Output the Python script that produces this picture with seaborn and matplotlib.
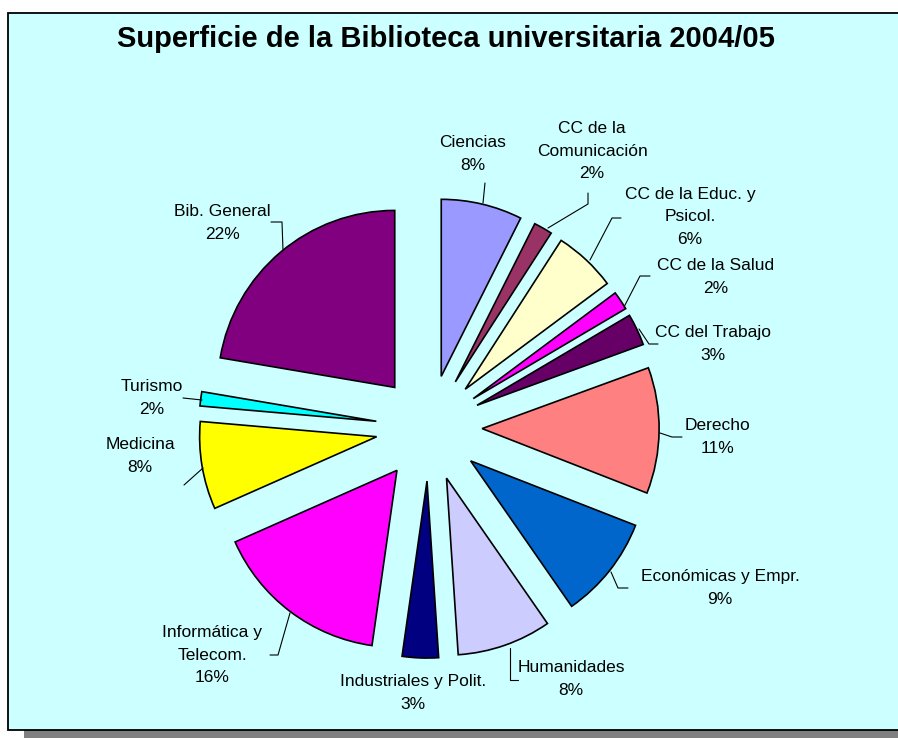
import matplotlib
matplotlib.use("Agg")
import matplotlib.pyplot as plt
import seaborn as sns
from matplotlib.patches import Rectangle

sns.set_style("white")
plt.rcParams['font.family'] = ['Liberation Sans', 'DejaVu Sans']

categories = ["Ciencias", "CC de la\nComunicación", "CC de la Educ. y\nPsicol.",
              "CC de la Salud", "CC del Trabajo", "Derecho", "Económicas y Empr.",
              "Humanidades", "Industriales y Polit.", "Informática y\nTelecom.",
              "Medicina", "Turismo", "Bib. General"]
# slice shares
values = [7.4, 1.7, 5.7, 1.7, 2.9, 11.5, 9.4, 8.6, 3.3, 16.1, 8.0, 1.3, 22.3]
# percentage labels as printed on the chart
pct_labels = ["8%", "2%", "6%", "2%", "3%", "11%", "9%", "8%", "3%", "16%", "8%", "2%", "22%"]
colors = ["#9999FF", "#993366", "#FFFFCC", "#FF00FF", "#660066", "#FF8080",
          "#0066CC", "#CCCCFF", "#000080", "#FF00FF", "#FFFF00", "#00FFFF", "#800080"]

W, H = 898, 738
CX, CY, R = 429, 428, 177   # pie centre / radius in pixels

# label text centres (pixels) and leader line paths (pixels)
label_pos = [(473, 154), (592, 151), (690, 217), (716, 277), (713, 344), (718, 437),
             (720, 588), (571, 679), (413, 693), (212, 655), (140, 456), (152, 398),
             (222, 223)]
leaders = [[(483, 203), (485, 183)],
           [(548, 228), (588, 204), (588, 193)],
           [(590, 260), (612, 218), (621, 218)],
           [(624, 307), (640, 276), (650, 276)],
           [(639, 329), (649, 344), (658, 344)],
           [(660, 433), (672, 437), (682, 437)],
           [(611, 572), (618, 588), (628, 588)],
           [(510, 648), (510, 680), (518, 680)],
           None,
           [(290, 613), (278, 655), (270, 655)],
           [(203, 468), (184, 485)],
           [(202, 400), (183, 398)],
           [(283, 250), (282, 222), (271, 222)]]


def d(p):
    return ((p[0] - CX) / R, (CY - p[1]) / R)


fig = plt.figure(figsize=(W / 100, H / 100), dpi=100)
fig.patch.set_facecolor("white")
# shadow and framed background
fig.patches.append(Rectangle((24 / W, 0), 1, (738 - 730) / H, transform=fig.transFigure,
                             facecolor="#808080", edgecolor="none", zorder=-2))
fig.patches.append(Rectangle((8 / W, (738 - 730) / H), 1, (730 - 12.5) / H,
                             transform=fig.transFigure, facecolor="#CCFFFF",
                             edgecolor="black", linewidth=1.3, zorder=-1))

ax = fig.add_axes([0, 0, 1, 1])
ax.set_zorder(5)
ax.set_facecolor("none")
ax.patch.set_alpha(0)
ax.pie(values, colors=colors, startangle=90, counterclock=False,
       explode=[0.3] * len(values), radius=1,
       wedgeprops=dict(edgecolor="black", linewidth=1.2))
ax.set_aspect("auto")
ax.set_xlim(-CX / R, (W - CX) / R)
ax.set_ylim(-(H - CY) / R, CY / R)
ax.axis("off")

for cat, pl, pos, ld in zip(categories, pct_labels, label_pos, leaders):
    x, y = d(pos)
    ax.text(x, y, f"{cat}\n{pl}", ha="center", va="center", fontsize=12.5,
            linespacing=1.6, color="black")
    if ld:
        xs, ys = zip(*[d(p) for p in ld])
        ax.plot(xs, ys, color="black", linewidth=0.8)

fig.text(446 / W, 1 - 39 / H, "Superficie de la Biblioteca universitaria 2004/05",
         ha="center", va="center", fontsize=21, fontweight="bold", color="black",
         zorder=10)

fig.savefig("out.png", dpi=100)
